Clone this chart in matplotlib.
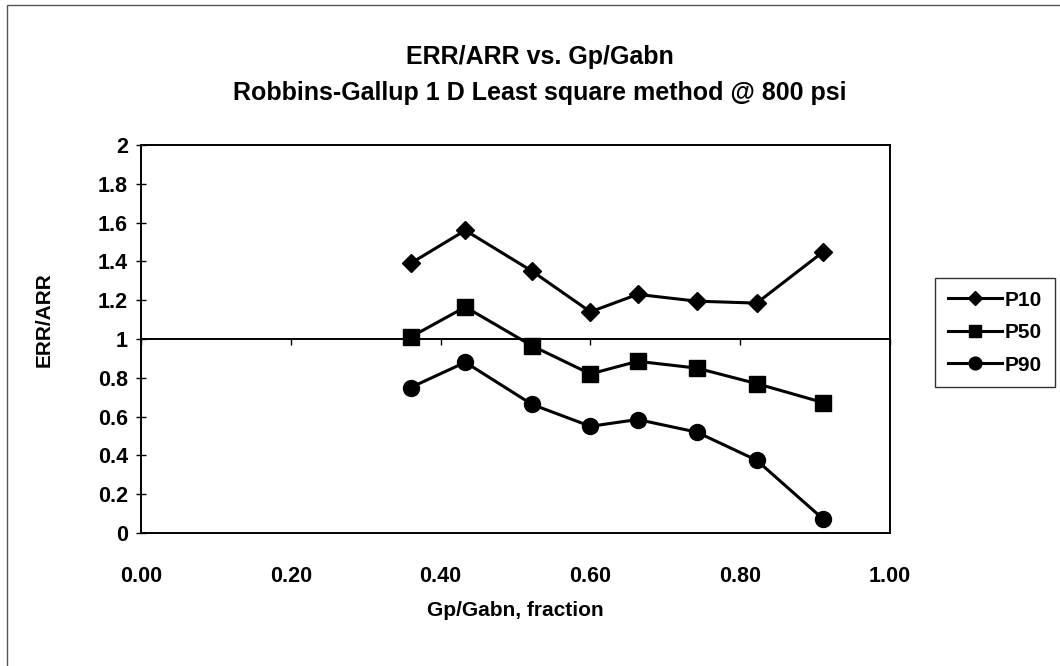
import matplotlib
matplotlib.use("Agg")
import matplotlib.pyplot as plt
from matplotlib.patches import Rectangle
from matplotlib.ticker import FuncFormatter

plt.rcParams['font.family'] = ['Liberation Sans', 'DejaVu Sans']
plt.rcParams['font.weight'] = 'bold'

# Gp/Gabn fraction
gp_gabn = [0.360, 0.433, 0.522, 0.600, 0.663, 0.742, 0.822, 0.911]

# ERR/ARR per percentile
p10 = [1.39, 1.56, 1.35, 1.14, 1.23, 1.195, 1.185, 1.45]
p50 = [1.01, 1.165, 0.965, 0.82, 0.885, 0.85, 0.77, 0.672]
p90 = [0.75, 0.88, 0.663, 0.55, 0.585, 0.52, 0.375, 0.071]

series_names = ['P10', 'P50', 'P90']
x_ticks = [0.0, 0.2, 0.4, 0.6, 0.8, 1.0]
y_ticks = [0.0, 0.2, 0.4, 0.6, 0.8, 1.0, 1.2, 1.4, 1.6, 1.8, 2.0]

fig = plt.figure(figsize=(10.6, 6.66), dpi=100)
fig.patches.append(Rectangle((7 / 1060, -0.1), 1.2, 1.1 - 5 / 666,
                             transform=fig.transFigure, fill=False,
                             edgecolor='#555555', linewidth=1.0))

ax = fig.add_axes([141 / 1060, 133 / 666, 749 / 1060, 388 / 666])

ax.plot(gp_gabn, p10, color='black', lw=2.2, marker='D', ms=9.5, label=series_names[0])
ax.plot(gp_gabn, p50, color='black', lw=2.2, marker='s', ms=11, label=series_names[1])
ax.plot(gp_gabn, p90, color='black', lw=2.2, marker='o', ms=11.5, label=series_names[2])

ax.set_xlim(0, 1)
ax.set_ylim(0, 2)

# x axis crosses the value axis at 1
ax.spines['bottom'].set_position(('data', 1))
for s in ax.spines.values():
    s.set_linewidth(1.4)
ax.set_xticks(x_ticks)
ax.tick_params(axis='x', direction='out', length=4, width=1, labelbottom=False)

ax.set_yticks(y_ticks)
ax.yaxis.set_major_formatter(FuncFormatter(lambda v, p: '%g' % v))
ax.tick_params(axis='y', direction='inout', length=7, width=1, pad=6, labelsize=15.5)

# tick labels sit below the plot area, plus the bottom border
sec = ax.secondary_xaxis('bottom')
sec.set_xticks(x_ticks)
sec.set_xticklabels(['%.2f' % v for v in x_ticks])
sec.tick_params(length=0, pad=24, labelsize=15.5)
sec.spines['bottom'].set_linewidth(1.4)

fig.text(540 / 1060, 1 - 57 / 666, 'ERR/ARR vs. Gp/Gabn', ha='center', va='center',
         fontsize=18, fontweight='bold')
fig.text(540 / 1060, 1 - 93 / 666, 'Robbins-Gallup 1 D Least square method @ 800 psi',
         ha='center', va='center', fontsize=18, fontweight='bold')
fig.text(515 / 1060, 1 - 610 / 666, 'Gp/Gabn, fraction', ha='center', va='center',
         fontsize=15, fontweight='bold')
fig.text(44 / 1060, 1 - 320 / 666, 'ERR/ARR', ha='center', va='center', rotation=90,
         fontsize=15, fontweight='bold')

leg = ax.legend(loc='upper left', bbox_to_anchor=(935 / 1060, 1 - 278 / 666),
                bbox_transform=fig.transFigure, fontsize=15, frameon=True,
                fancybox=False, edgecolor='black', handlelength=2.6,
                handletextpad=0.15, borderpad=0.6, labelspacing=0.65,
                borderaxespad=0, markerscale=0.8)
leg.get_frame().set_linewidth(1.0)

fig.savefig('out.png', dpi=100)
